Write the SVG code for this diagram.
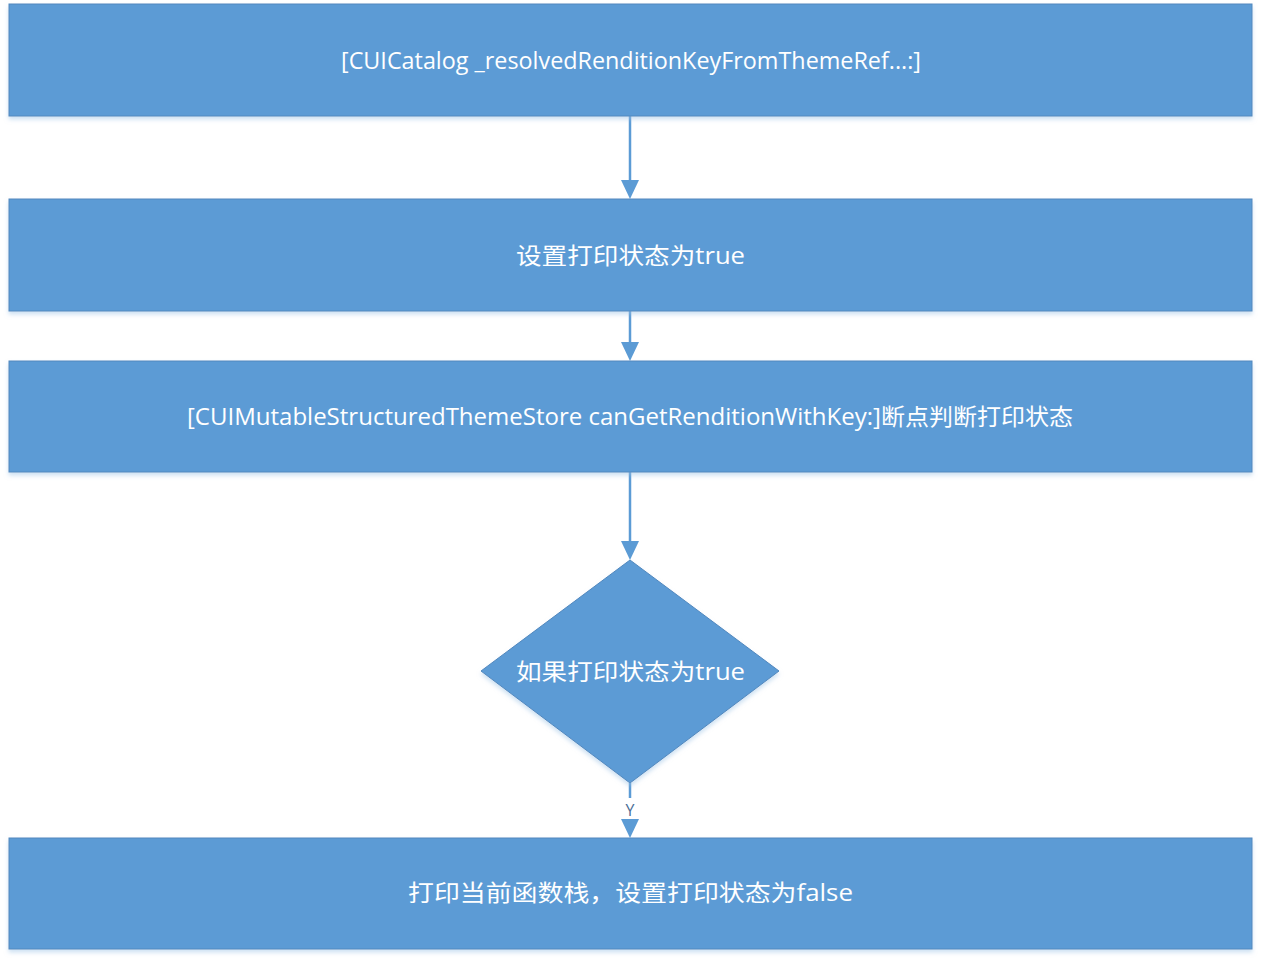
<svg xmlns="http://www.w3.org/2000/svg" width="1263" height="964" viewBox="0 0 1263 964">
<defs>
<filter id="sh" x="-5%" y="-5%" width="110%" height="130%">
<feDropShadow dx="0" dy="3" stdDeviation="2" flood-color="#9DC3E6" flood-opacity="0.5"/>
</filter>
</defs>
<style>
.n{fill:#5B9BD5;stroke:#5288BE;stroke-width:1;filter:url(#sh)}
.t{fill:#FFFFFF;font-family:"Open Sans","Noto Sans CJK SC",sans-serif;font-size:23px;text-anchor:middle;dominant-baseline:central}
.c{stroke:#5B9BD5;stroke-width:2.5;fill:none}
.a{fill:#5B9BD5}
.l{fill:#4A6E96;font-family:"Open Sans",sans-serif;font-size:16px;text-anchor:middle;dominant-baseline:central}
</style>
<rect width="1263" height="964" fill="#FFFFFF"/>
<g id="connectors">
<line class="c" x1="630" y1="116" x2="630" y2="182"/>
<path class="a" d="M621,180 L639,180 L630,199 Z"/>
<line class="c" x1="630" y1="311" x2="630" y2="344"/>
<path class="a" d="M621,342 L639,342 L630,361 Z"/>
<line class="c" x1="630" y1="472" x2="630" y2="543"/>
<path class="a" d="M621,541 L639,541 L630,560 Z"/>
<line class="c" x1="630" y1="783" x2="630" y2="798"/>
<text class="l" x="630" y="810">Y</text>
<path class="a" d="M621,819 L639,819 L630,838 Z"/>
</g>
<g id="n1">
<rect class="n" x="9" y="4" width="1243" height="112"/>
<text class="t" x="631" y="60" textLength="580" lengthAdjust="spacingAndGlyphs">[CUICatalog _resolvedRenditionKeyFromThemeRef...:]</text>
</g>
<g id="n2">
<rect class="n" x="9" y="199" width="1243" height="112"/>
<text class="t" x="630.5" y="255" textLength="229" lengthAdjust="spacingAndGlyphs">设置打印状态为true</text>
</g>
<g id="n3">
<rect class="n" x="9" y="361" width="1243" height="111"/>
<text class="t" x="630" y="416" textLength="886" lengthAdjust="spacingAndGlyphs">[CUIMutableStructuredThemeStore canGetRenditionWithKey:]断点判断打印状态</text>
</g>
<g id="n4">
<polygon class="n" points="630,560 779,671 630,783 481,671"/>
<text class="t" x="630.5" y="671" textLength="229" lengthAdjust="spacingAndGlyphs">如果打印状态为true</text>
</g>
<g id="n5">
<rect class="n" x="9" y="838" width="1243" height="111"/>
<text class="t" x="630.5" y="892" textLength="445" lengthAdjust="spacingAndGlyphs">打印当前函数栈，设置打印状态为false</text>
</g>
</svg>
